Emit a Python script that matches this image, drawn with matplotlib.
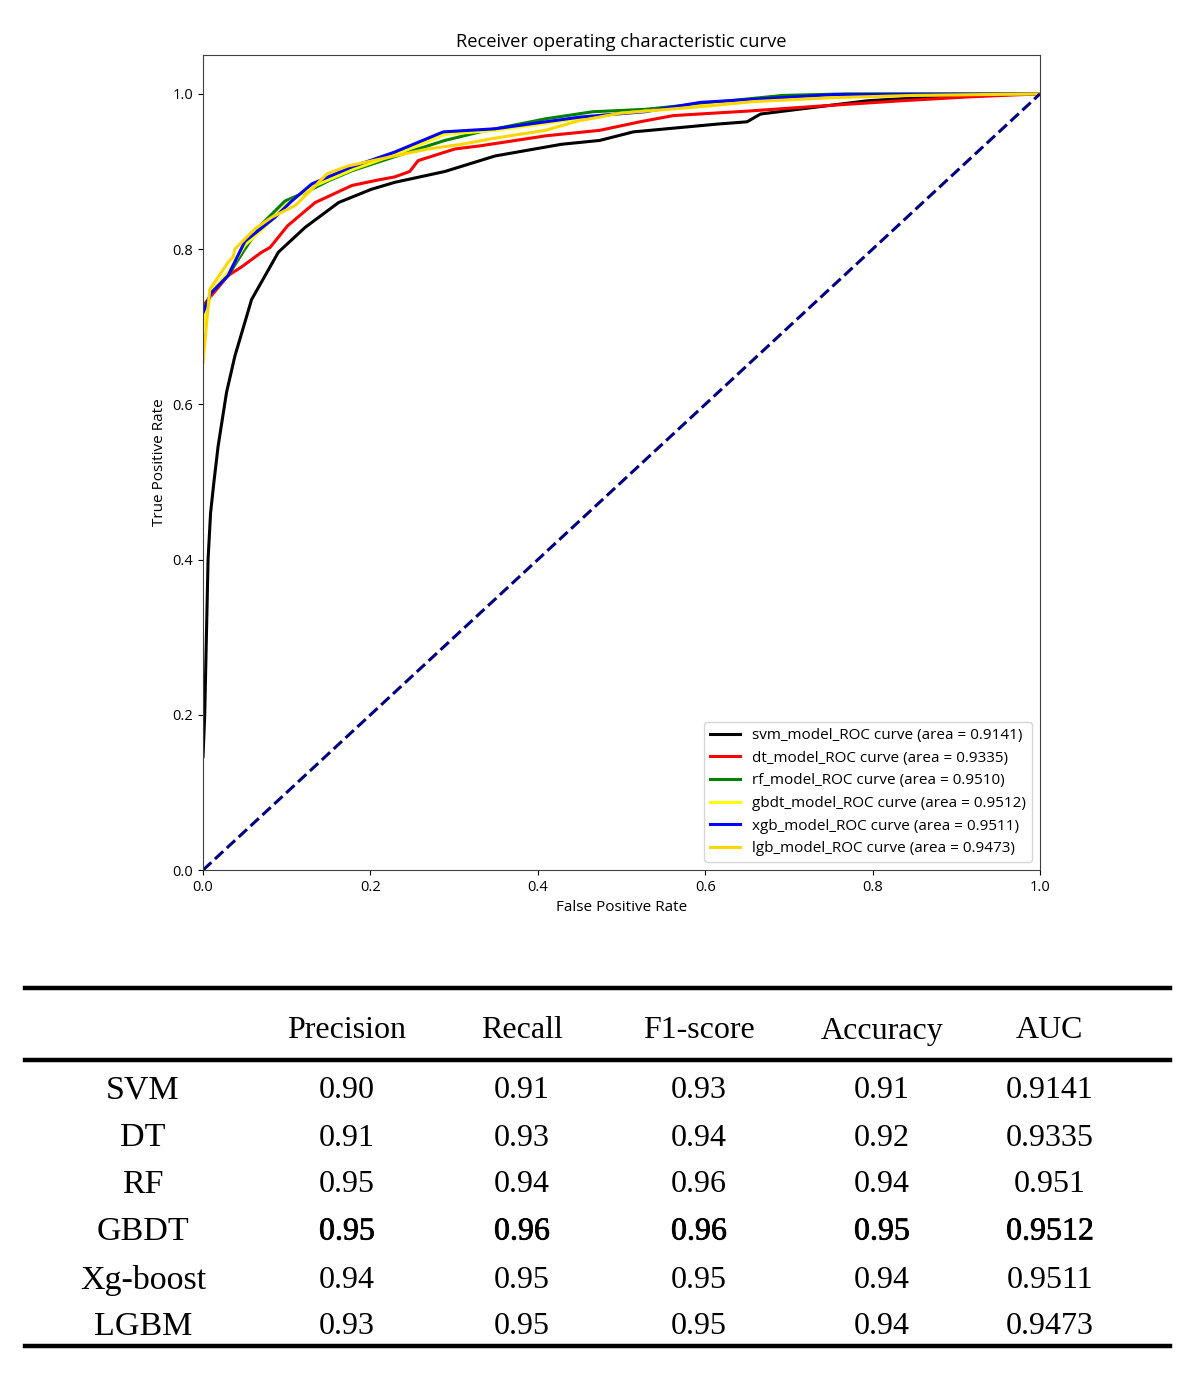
import matplotlib
matplotlib.use('Agg')
import matplotlib.pyplot as plt
import matplotlib.patheffects as pe
import numpy as np

# ROC curves
svm_fpr = [0, 0.002, 0.004, 0.006, 0.009, 0.013, 0.018, 0.028, 0.038, 0.058, 0.09, 0.122, 0.162, 0.201,
           0.229, 0.289, 0.349, 0.428, 0.474, 0.514, 0.574, 0.614, 0.65, 0.666, 0.733, 0.793, 0.853, 0.913, 1.0]
svm_tpr = [0.146, 0.2, 0.3, 0.40, 0.46, 0.50, 0.546, 0.615, 0.662, 0.735, 0.796, 0.828, 0.86, 0.877,
           0.886, 0.90, 0.92, 0.935, 0.94, 0.951, 0.957, 0.961, 0.964, 0.974, 0.983, 0.991, 0.995, 0.998, 1.0]

dt_fpr = [0, 0.01, 0.03, 0.046, 0.07, 0.08, 0.101, 0.134, 0.178, 0.209, 0.229, 0.247, 0.257, 0.301,
          0.331, 0.41, 0.474, 0.522, 0.562, 0.654, 0.733, 0.833, 0.913, 1.0]
dt_tpr = [0.727, 0.74, 0.766, 0.777, 0.796, 0.802, 0.83, 0.86, 0.882, 0.889, 0.893, 0.9, 0.914, 0.929,
          0.933, 0.946, 0.953, 0.964, 0.972, 0.978, 0.984, 0.991, 0.996, 1.0]

rf_fpr = [0, 0.01, 0.03, 0.05, 0.07, 0.098, 0.126, 0.15, 0.178, 0.209, 0.257, 0.289, 0.331, 0.41,
          0.466, 0.528, 0.6, 0.693, 0.77, 1.0]
rf_tpr = [0.72, 0.744, 0.766, 0.80, 0.832, 0.862, 0.875, 0.888, 0.901, 0.912, 0.929, 0.94, 0.951, 0.968,
          0.977, 0.98, 0.988, 0.998, 1.0, 1.0]

gbdt_fpr = [0, 0.01, 0.03, 0.05, 0.08, 0.1, 0.13, 0.18, 0.23, 0.29, 0.35, 0.41, 0.47, 0.55, 0.65, 0.78, 1.0]
gbdt_tpr = [0.70, 0.745, 0.77, 0.805, 0.835, 0.858, 0.88, 0.903, 0.922, 0.948, 0.953, 0.962, 0.972, 0.98,
            0.99, 0.998, 1.0]

xgb_fpr = [0, 0.01, 0.03, 0.05, 0.086, 0.106, 0.13, 0.178, 0.229, 0.287, 0.349, 0.389, 0.45, 0.528,
           0.594, 0.753, 1.0]
xgb_tpr = [0.718, 0.744, 0.766, 0.81, 0.841, 0.862, 0.884, 0.906, 0.925, 0.951, 0.955, 0.961, 0.97, 0.977,
           0.989, 0.999, 1.0]

lgb_fpr = [0, 0.008, 0.03, 0.036, 0.038, 0.062, 0.082, 0.11, 0.13, 0.148, 0.173, 0.229, 0.269, 0.309,
           0.349, 0.409, 0.448, 0.498, 0.6, 0.657, 0.75, 0.85, 1.0]
lgb_tpr = [0.654, 0.748, 0.783, 0.79, 0.80, 0.826, 0.841, 0.856, 0.877, 0.897, 0.907, 0.92, 0.929, 0.935,
           0.943, 0.953, 0.965, 0.975, 0.984, 0.99, 0.995, 0.998, 1.0]

models = ['svm', 'dt', 'rf', 'gbdt', 'xgb', 'lgb']
aucs = ['0.9141', '0.9335', '0.9510', '0.9512', '0.9511', '0.9473']
colors = ['black', 'red', 'green', 'yellow', 'blue', 'gold']
curves = [(svm_fpr, svm_tpr), (dt_fpr, dt_tpr), (rf_fpr, rf_tpr),
          (gbdt_fpr, gbdt_tpr), (xgb_fpr, xgb_tpr), (lgb_fpr, lgb_tpr)]

# table
row_names = ['SVM', 'DT', 'RF', 'GBDT', 'Xg-boost', 'LGBM']
col_names = ['Precision', 'Recall', 'F1-score', 'Accuracy', 'AUC']
precision = ['0.90', '0.91', '0.95', '0.95', '0.94', '0.93']
recall = ['0.91', '0.93', '0.94', '0.96', '0.95', '0.95']
f1_score = ['0.93', '0.94', '0.96', '0.96', '0.95', '0.95']
accuracy = ['0.91', '0.92', '0.94', '0.95', '0.94', '0.94']
auc_col = ['0.9141', '0.9335', '0.951', '0.9512', '0.9511', '0.9473']
best_row = 3

fig = plt.figure(figsize=(12, 13.83), dpi=100)
ax = fig.add_axes([0.1692, 0.3709, 0.6975, 0.5893])

for m, a, c, (fpr, tpr) in zip(models, aucs, colors, curves):
    ax.plot(fpr, tpr, color=c, lw=2.2, label='%s_model_ROC curve (area = %s)' % (m, a))
ax.plot([0, 1], [0, 1], color='navy', lw=2.2, linestyle='--')

font = 'Open Sans'
ax.set_xlim([0.0, 1.0])
ax.set_ylim([0.0, 1.05])
ax.set_xlabel('False Positive Rate', fontsize=11, family=font)
ax.set_ylabel('True Positive Rate', fontsize=11, family=font)
ax.set_title('Receiver operating characteristic curve', fontsize=13.2, family=font)
for lab in ax.get_xticklabels() + ax.get_yticklabels():
    lab.set_family(font)
    lab.set_fontsize(10.5)
for s in ax.spines.values():
    s.set_color('#404040')
ax.legend(loc='lower right', prop={'family': font, 'size': 11})

# table drawn on a pixel-space overlay
tab = fig.add_axes([0, 0, 1, 1])
tab.set_xlim(0, 1200)
tab.set_ylim(1383, 0)
tab.axis('off')

col_x = [143, 347, 522, 699, 882, 1050]
header_y = 1031
row_y = [1090, 1138, 1185, 1232, 1280, 1327]
tfont = 'Liberation Serif'
tsize = 23

for y in [988, 1060, 1346]:
    tab.plot([25, 1170], [y, y], color='black', lw=3.2)

for x, name in zip(col_x[1:], col_names):
    tab.text(x, header_y, name, ha='center', va='center', family=tfont, fontsize=tsize)

columns = [precision, recall, f1_score, accuracy, auc_col]
bold = [pe.withStroke(linewidth=0.5, foreground='black')]
for i, (y, name) in enumerate(zip(row_y, row_names)):
    tab.text(col_x[0], y, name, ha='center', va='center', family=tfont, fontsize=24.5)
    for x, col in zip(col_x[1:], columns):
        t = tab.text(x, y, col[i], ha='center', va='center', family=tfont, fontsize=tsize)
        if i == best_row:
            t.set_path_effects(bold)

plt.savefig('out.png', dpi=100)
